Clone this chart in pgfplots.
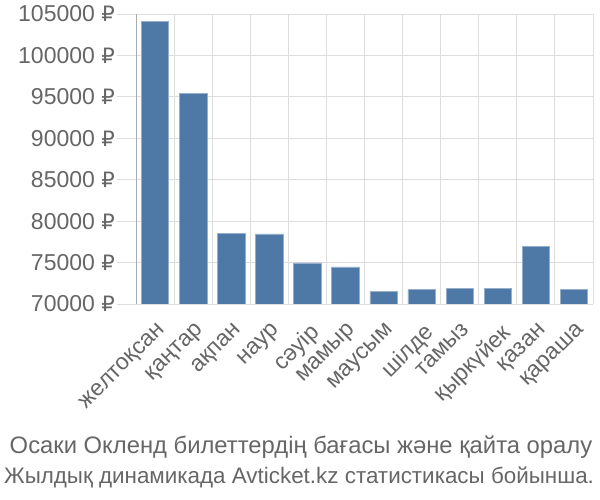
\documentclass[border=0pt]{standalone}
\usepackage{pgfplots}
\pgfplotsset{compat=1.18}
\usepackage{fontspec}
\setmainfont{Liberation Sans}
\newfontfamily\rub[Scale=0.92]{DejaVu Sans}
\newcommand{\R}{{\rub ₽}}
\definecolor{barc}{RGB}{78,121,167}
\definecolor{txt}{RGB}{102,102,102}
\definecolor{grd}{RGB}{221,221,221}
\definecolor{axl}{RGB}{170,170,170}
\begin{document}
\begin{tikzpicture}
\useasboundingbox (0,0) rectangle (600bp,500bp);
\begin{axis}[
  at={(136bp,196bp)}, anchor=south west,
  scale only axis, width=457bp, height=290bp,
  xmin=-0.5, xmax=11.5, ymin=70000, ymax=105000,
  scaled y ticks=false,
  ybar, bar width=0.72,
  xtick={0,...,11},
  xticklabels={желтоқсан,қаңтар,ақпан,наур,сәуір,мамыр,маусым,шілде,тамыз,қыркүйек,қазан,қараша},
  minor xtick={-0.5,0.5,...,11.5},
  ytick={70000,75000,...,105000},
  yticklabels={70000 \R,75000 \R,80000 \R,85000 \R,90000 \R,95000 \R,100000 \R,105000 \R},
  tick align=outside,
  major tick length=19bp, minor tick length=18bp,
  xtick style={draw=none},
  minor x tick style={grd, line width=1pt},
  ytick style={grd, line width=1pt},
  xminorgrids, ymajorgrids,
  grid style={grd, line width=1pt},
  minor grid style={grd, line width=1pt},
  axis line style={draw=none},
  separate axis lines,
  y axis line style={draw=axl, line width=1pt},
  axis x line*=bottom, axis y line*=left,
  tick label style={font=\fontsize{23bp}{26bp}\selectfont, text=txt},
  x tick label style={rotate=45, anchor=north east, inner sep=1bp, yshift=1bp, xshift=3bp},
  y tick label style={inner sep=2bp},
  clip=true,
]
\addplot[fill=barc, draw=barc!60!white, line width=0.6pt] coordinates {
(0,104070) (1,95400) (2,78530) (3,78450) (4,74950) (5,74470)
(6,71490) (7,71770) (8,71930) (9,71930) (10,76920) (11,71770)};
\end{axis}
\node[text=txt, font=\fontsize{23.8bp}{26bp}\selectfont, anchor=center] at (301bp,53bp) {Осаки Окленд билеттердің бағасы және қайта оралу};
\node[text=txt, font=\fontsize{22.4bp}{26bp}\selectfont, anchor=center] at (299bp,23bp) {Жылдық динамикада Avticket.kz статистикасы бойынша.};
\end{tikzpicture}
\end{document}
